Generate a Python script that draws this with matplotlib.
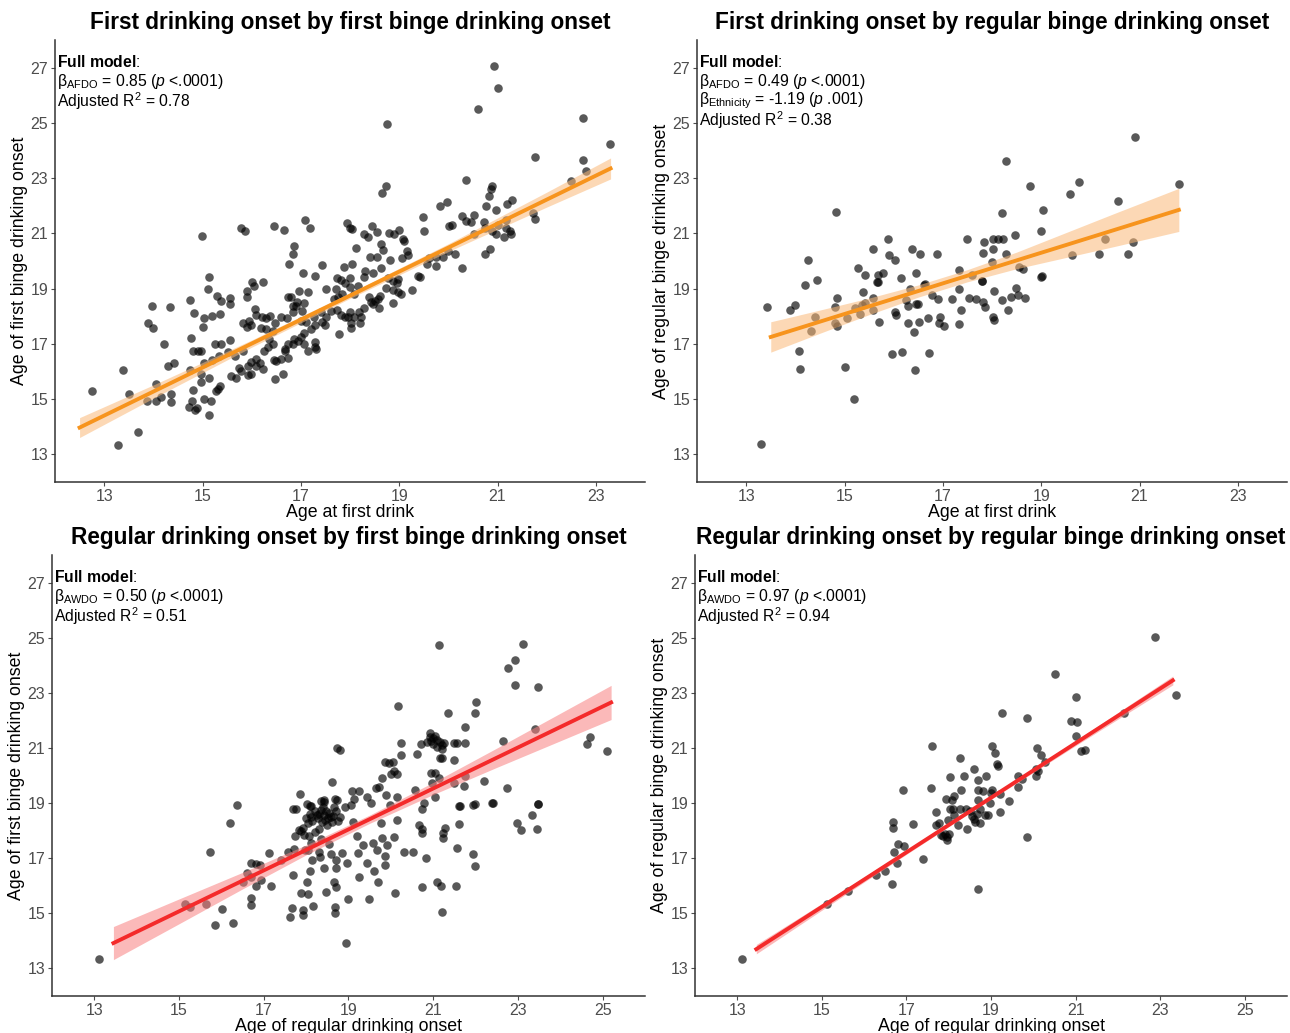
import numpy as np
import matplotlib
matplotlib.use("Agg")
import matplotlib.pyplot as plt

plt.rcParams['font.family'] = ['Liberation Sans', 'DejaVu Sans']
plt.rcParams['mathtext.fontset'] = 'custom'
plt.rcParams['mathtext.rm'] = 'Liberation Sans'
plt.rcParams['mathtext.it'] = 'Liberation Sans:italic'
plt.rcParams['mathtext.bf'] = 'Liberation Sans:bold'

# ---- panel 1: age at first drink vs age of first binge drinking onset
p1_pts = [
    (12.76, 15.3), (13.28, 13.33), (13.39, 16.05), (13.5, 15.18), (13.69, 13.8),
    (13.97, 18.38), (14.33, 18.32), (13.89, 17.77), (13.99, 17.57), (14.75, 18.59), (14.82, 18.11),
    (15.03, 17.92), (15.2, 18.02), (15.36, 18.08), (15.3, 18.74), (15.38, 18.56), (15.55, 18.65),
    (15.55, 18.45), (15.91, 18.68), (15.13, 19.41), (15.11, 18.99), (16.0, 19.25), (16.05, 19.1),
    (16.23, 19.25), (15.91, 18.93), (14.99, 20.9), (15.78, 21.2), (15.87, 21.07), (16.45, 21.25),
    (16.65, 21.13), (17.09, 21.47), (17.19, 21.2), (17.94, 21.37), (18.0, 21.2), (18.05, 21.15),
    (18.45, 21.27), (18.54, 21.05), (18.29, 20.96), (18.36, 20.87), (18.8, 21.0), (18.9, 20.98),
    (19.0, 21.13), (19.07, 20.8), (19.1, 20.72), (19.49, 21.59), (19.51, 21.07), (19.83, 21.98),
    (18.73, 22.7), (18.66, 22.47), (16.87, 20.53), (16.85, 20.24), (16.75, 19.9), (17.44, 19.86),
    (18.13, 20.47), (18.64, 20.6), (18.68, 20.4), (19.16, 20.38), (18.82, 20.04), (19.05, 20.1),
    (15.0, 17.6), (14.21, 17.01), (14.77, 17.2), (14.8, 16.75), (14.9, 16.74), (14.97, 16.74),
    (15.26, 16.99), (15.38, 16.99), (15.55, 17.13), (14.29, 16.2), (14.43, 16.3), (15.03, 16.32),
    (15.19, 16.4), (15.34, 16.56), (15.51, 16.7), (14.75, 16.04), (14.97, 15.92), (14.97, 15.63),
    (15.14, 15.75), (14.06, 15.56), (13.87, 14.93), (14.06, 14.95), (14.16, 15.08), (14.36, 15.19),
    (14.35, 14.9), (14.8, 15.33), (14.79, 14.95), (15.04, 15.01), (15.18, 14.95), (14.72, 14.72),
    (14.84, 14.59), (14.88, 14.68), (15.14, 14.41), (15.32, 15.35), (15.36, 15.47), (15.28, 15.29),
    (15.57, 15.84), (15.68, 15.78), (15.78, 16.02), (15.74, 16.14), (15.67, 16.56), (15.82, 16.74),
    (15.92, 16.2), (15.99, 16.36), (16.09, 16.2), (16.16, 16.32), (16.09, 16.44), (16.23, 16.08),
    (15.99, 15.92), (15.92, 15.87), (16.26, 16.74), (16.33, 16.9), (16.36, 17.17), (16.43, 16.99),
    (16.48, 15.74), (16.63, 15.92), (16.5, 16.38), (16.45, 16.42), (16.6, 16.44), (16.73, 16.5),
    (16.67, 16.81), (16.73, 16.99), (16.84, 17.01), (16.87, 17.19), (16.94, 17.11), (17.0, 17.25),
    (17.07, 16.99), (17.28, 17.08), (17.28, 16.89), (17.31, 16.81), (17.14, 16.75), (16.67, 16.75),
    (15.82, 17.77), (15.95, 17.83), (15.99, 17.69), (15.91, 17.62), (16.06, 18.26), (16.09, 18.05),
    (16.21, 17.98), (16.29, 17.93), (16.38, 18.02), (16.19, 17.59), (16.29, 17.53), (16.43, 17.47),
    (16.48, 17.74), (16.6, 17.99), (16.72, 17.93), (16.79, 18.71), (16.84, 18.14), (16.9, 18.38),
    (16.97, 18.9), (17.14, 18.87), (17.02, 18.2), (17.0, 17.84), (17.11, 17.78), (17.26, 17.96),
    (17.29, 17.69), (17.21, 17.53), (17.07, 17.38), (17.44, 17.78), (17.5, 17.68), (17.51, 17.96),
    (17.41, 18.14), (17.61, 18.2), (17.67, 18.62), (17.75, 18.68), (17.84, 18.8), (17.73, 19.39),
    (17.82, 19.32), (17.9, 19.2), (18.01, 19.39), (17.51, 18.99), (17.72, 18.99), (17.74, 18.22),
    (17.82, 18.05), (17.9, 17.96), (17.99, 18.17), (17.95, 17.96), (18.02, 17.77), (18.09, 17.96),
    (18.19, 18.14), (18.22, 17.96), (18.29, 18.3), (17.77, 17.35), (18.02, 17.59), (18.2, 17.74),
    (18.38, 18.68), (18.43, 18.5), (18.46, 18.44), (18.5, 18.56), (18.56, 18.62), (18.6, 18.74),
    (18.58, 18.29), (18.31, 19.65), (18.28, 19.43), (18.46, 19.56), (18.63, 19.75), (18.41, 20.16),
    (18.54, 20.16), (18.77, 19.39), (18.88, 19.29), (18.95, 19.19), (18.97, 19.35), (18.73, 19.02),
    (18.88, 18.95), (18.97, 18.89), (19.04, 18.8), (18.88, 18.47), (19.27, 18.95), (19.39, 19.44),
    (19.43, 19.41), (19.56, 19.9), (19.61, 20.12), (19.75, 20.16), (19.75, 19.83), (19.17, 20.2),
    (18.04, 19.9), (17.88, 19.77), (18.01, 19.05), (18.16, 19.11), (18.09, 18.8), (17.28, 19.44),
    (17.04, 19.56), (16.73, 18.71), (16.84, 18.38), (17.07, 18.47), (16.92, 18.5),
    (20.92, 27.05), (21.0, 26.26), (20.61, 25.5), (18.75, 24.96), (22.74, 25.18), (23.28, 24.25),
    (21.77, 23.76), (22.74, 23.64), (22.81, 23.27), (22.5, 22.9), (20.36, 22.95), (20.88, 22.71),
    (20.86, 22.6), (20.82, 22.36), (19.97, 22.14), (20.76, 21.98), (21.73, 21.72), (21.77, 21.51),
    (21.3, 22.2), (21.2, 22.05), (20.97, 21.84), (20.53, 21.68), (20.28, 21.63), (20.36, 21.46),
    (20.46, 21.4), (20.02, 21.25), (20.08, 21.3), (20.72, 21.41), (20.75, 21.2), (20.53, 20.98),
    (20.88, 21.1), (20.97, 20.98), (21.0, 21.3), (21.18, 21.5), (21.17, 21.2), (21.25, 21.1),
    (21.27, 20.98), (21.14, 20.86), (20.75, 20.26), (20.84, 20.44), (20.14, 20.26), (19.9, 20.16),
    (20.0, 20.35), (20.27, 19.75),
]
p1_fit_x = [12.5, 23.3]
p1_fit_y = [13.97, 23.35]
p1_band_x = [12.5, 14.0, 16.0, 18.0, 20.0, 22.0, 23.3]
p1_band_half = [0.36, 0.24, 0.13, 0.1, 0.14, 0.27, 0.38]

# ---- panel 2: age at first drink vs age of regular binge drinking onset
p2_pts = [
    (20.91, 24.48), (18.28, 23.63), (18.77, 22.72), (19.76, 22.85), (19.58, 22.42), (20.56, 22.19),
    (21.8, 22.78), (14.83, 21.76), (18.21, 21.72), (19.04, 21.85), (18.46, 20.94), (19.0, 21.08),
    (17.49, 20.8), (17.84, 20.7), (18.03, 20.78), (18.13, 20.78), (18.23, 20.78), (15.89, 20.78),
    (15.57, 20.42), (15.9, 20.2), (16.03, 20.03), (16.37, 20.42), (16.53, 20.27), (16.88, 20.25),
    (17.81, 20.3), (18.03, 20.42), (18.29, 20.25), (17.99, 19.97), (19.62, 20.21), (20.18, 20.27),
    (20.77, 20.27), (20.29, 20.78), (20.87, 20.7), (17.32, 19.67), (17.59, 19.48), (17.8, 19.28),
    (18.54, 19.79), (18.64, 19.7), (19.0, 19.42), (19.02, 19.46), (14.25, 20.03), (14.45, 19.33),
    (14.19, 19.12), (15.28, 19.75), (15.41, 19.51), (15.68, 19.51), (15.78, 19.57), (15.67, 19.24),
    (16.15, 19.39), (16.45, 19.55), (16.62, 19.12),
    (13.3, 13.36), (13.42, 18.33), (13.9, 18.21), (14.0, 18.42), (14.08, 16.75), (14.09, 16.08),
    (14.31, 17.48), (14.41, 17.97), (14.81, 18.33), (14.85, 18.66), (14.81, 17.75), (14.85, 17.63),
    (15.02, 16.18), (15.19, 15.0), (15.06, 17.93), (15.22, 18.31), (15.31, 18.09), (15.35, 18.42),
    (15.41, 18.48), (15.37, 18.87), (15.57, 18.66), (15.57, 18.24), (15.68, 19.23), (15.7, 17.79),
    (15.97, 16.64), (16.03, 18.15), (16.05, 18.03), (16.16, 16.72), (16.25, 18.58), (16.29, 18.38),
    (16.33, 18.99), (16.29, 17.75), (16.41, 17.44), (16.43, 16.05), (16.45, 18.45), (16.49, 18.45),
    (16.51, 17.78), (16.63, 19.15), (16.69, 17.93), (16.71, 16.66), (16.77, 18.76), (16.91, 18.62),
    (16.94, 17.99), (16.93, 17.75), (17.03, 17.63), (17.18, 18.62), (17.32, 18.99), (17.32, 17.73),
    (17.37, 18.24), (17.53, 18.66), (17.67, 18.62), (17.8, 19.27), (17.81, 18.52), (17.86, 18.33),
    (18.05, 18.9), (18.03, 17.99), (18.05, 17.87), (18.21, 18.58), (18.32, 18.21), (18.38, 18.7),
    (18.49, 19.02), (18.52, 18.78), (18.67, 18.66),
]
p2_fit_x = [13.5, 21.8]
p2_fit_y = [17.25, 21.85]
p2_band_x = [13.5, 14.5, 15.5, 16.5, 17.5, 18.5, 19.5, 20.5, 21.8]
p2_band_half = [0.55, 0.42, 0.3, 0.22, 0.22, 0.3, 0.45, 0.6, 0.78]

# ---- panel 3: age of regular drinking onset vs age of first binge drinking onset
p3_pts = [
    (13.12, 13.35), (15.15, 15.33), (15.25, 15.24), (15.64, 15.33), (15.86, 14.58), (16.02, 15.16),
    (15.72, 17.22), (16.21, 18.27), (16.37, 18.94), (16.28, 14.66), (16.5, 16.15), (16.61, 16.45),
    (16.7, 16.31), (16.7, 16.82), (16.81, 16.79), (16.7, 15.55), (16.7, 15.3), (16.81, 15.99),
    (16.93, 16.21), (16.91, 16.76), (17.13, 17.18), (17.18, 15.99), (17.4, 16.94), (17.57, 17.24),
    (17.62, 14.88), (17.69, 18.78), (17.72, 17.33), (17.68, 16.39), (17.67, 15.18), (17.74, 17.81),
    (17.82, 18.03), (17.87, 17.97), (17.92, 18.09), (17.97, 17.3), (17.87, 15.75), (17.92, 15.12),
    (17.92, 14.94), (18.02, 18.98), (18.04, 18.27), (18.07, 17.79), (18.12, 17.55), (18.14, 16.94),
    (18.1, 16.52), (18.02, 16.15), (18.04, 15.69), (18.17, 15.27), (18.27, 18.45), (18.42, 18.58),
    (18.51, 18.45), (18.63, 18.52), (18.3, 18.05), (18.3, 17.24), (18.32, 17.06), (18.42, 16.64),
    (18.47, 15.79), (18.54, 17.51), (18.59, 17.15), (18.71, 16.94), (18.71, 16.64), (18.66, 16.15),
    (18.71, 15.97), (18.69, 15.24), (18.69, 15.0), (18.94, 13.91), (18.84, 17.18), (18.96, 16.82),
    (18.98, 15.51), (19.06, 18.94), (19.11, 18.33), (19.21, 17.81), (19.23, 17.18), (19.24, 16.33),
    (19.34, 17.48), (19.43, 16.82), (19.49, 15.51), (19.53, 19.0), (19.58, 17.55), (19.6, 16.52),
    (19.68, 17.28), (19.7, 16.15), (19.76, 18.27), (19.8, 17.73), (19.9, 17.48), (19.85, 17.08),
    (19.85, 16.76), (19.97, 18.94), (20.08, 17.76), (20.15, 18.39), (20.1, 15.73), (20.3, 17.24),
    (20.52, 17.24), (20.67, 18.21), (20.73, 18.05), (20.74, 17.91), (20.74, 18.78), (20.84, 17.0),
    (20.74, 15.97), (21.09, 16.15), (21.19, 15.99), (21.22, 17.91), (21.24, 17.75), (21.29, 18.09),
    (21.21, 15.06), (21.53, 15.99), (21.56, 17.36), (21.6, 18.25), (21.6, 18.9), (21.94, 18.94),
    (21.94, 17.15), (21.98, 16.72), (22.38, 19.02), (22.97, 18.27), (23.07, 18.01), (23.34, 18.55),
    (23.45, 18.05), (23.47, 18.98),
    (18.1, 18.6), (18.2, 18.7), (18.35, 18.75), (18.45, 18.4), (18.55, 18.65), (18.6, 18.3),
    (18.7, 18.7), (18.8, 18.5), (18.15, 18.35), (18.25, 18.55), (18.4, 18.85), (18.65, 18.85),
    (18.0, 18.45), (17.95, 17.85), (18.2, 17.95), (18.5, 18.2), (18.05, 17.3), (18.35, 17.7),
    (18.3, 18.62), (18.48, 18.7), (18.58, 18.5), (18.12, 18.5), (18.75, 18.35), (18.38, 18.3),
    (21.13, 24.75), (23.11, 24.78), (22.93, 24.2), (22.77, 23.9), (22.92, 23.28), (23.48, 23.22),
    (20.16, 22.52), (22.01, 22.68), (21.36, 22.27), (21.98, 22.28), (21.76, 21.77), (23.41, 21.68),
    (24.71, 21.41), (24.62, 21.13), (25.1, 20.9), (20.92, 21.53), (20.92, 21.4), (21.0, 21.35),
    (21.05, 21.45), (21.1, 21.3), (20.95, 21.25), (21.15, 21.2), (21.0, 21.15), (21.2, 21.1),
    (20.85, 21.2), (21.08, 21.05), (20.25, 21.19), (20.71, 21.13), (21.26, 21.17), (21.5, 21.19),
    (21.56, 21.17), (21.76, 21.18), (22.65, 21.24), (20.61, 20.78), (20.25, 20.75), (21.2, 20.95),
    (21.21, 20.63), (21.15, 20.63), (21.5, 20.56), (19.86, 20.5), (19.95, 20.45), (20.05, 20.5),
    (19.78, 19.9), (20.07, 20.18), (20.15, 20.05), (20.0, 20.05), (18.62, 19.77), (18.73, 21.01),
    (18.8, 20.93), (19.08, 19.44), (19.25, 19.44), (19.14, 19.14), (19.44, 19.23), (19.66, 19.53),
    (19.72, 19.58), (19.89, 19.29), (20.14, 19.23), (20.57, 19.47), (20.94, 20.1), (21.04, 20.08),
    (21.13, 19.9), (20.98, 19.74), (21.48, 19.72), (21.73, 19.62), (21.76, 20.0), (22.2, 19.8),
    (22.75, 19.53), (21.05, 19.21), (20.79, 19.01), (21.64, 18.89), (21.98, 18.95), (22.41, 19.02),
    (23.48, 18.96), (18.36, 19.08), (18.43, 19.05), (18.72, 19.11), (18.11, 18.89), (17.85, 19.32),
    (17.75, 18.77), (18.08, 18.9), (18.42, 19.1), (18.68, 19.13), (18.92, 18.84),
]
p3_fit_x = [13.45, 25.2]
p3_fit_y = [13.92, 22.65]
p3_band_x = [13.45, 15.0, 16.5, 18.0, 19.5, 21.0, 22.5, 24.0, 25.2]
p3_band_half = [0.6, 0.45, 0.3, 0.18, 0.15, 0.22, 0.35, 0.5, 0.62]

# ---- panel 4: age of regular drinking onset vs age of regular binge drinking onset
p4_pts = [
    (22.88, 25.01), (20.52, 23.7), (23.38, 22.92), (22.15, 22.27), (21.0, 22.83), (20.9, 21.96),
    (21.03, 21.95), (21.0, 21.44), (19.26, 22.27), (19.86, 22.07), (17.61, 21.07), (19.02, 21.08),
    (19.1, 20.83), (19.14, 20.41), (19.16, 20.33), (18.26, 20.65), (20.09, 20.98), (20.19, 20.76),
    (20.28, 20.49), (20.07, 20.25), (20.1, 20.17), (20.07, 20.0), (19.63, 20.0), (19.74, 19.88),
    (19.65, 19.58), (21.12, 20.88), (21.22, 20.92), (18.6, 20.24), (18.36, 20.0), (18.04, 19.95),
    (18.88, 19.97), (18.69, 19.82), (18.28, 19.46), (18.69, 19.46), (18.82, 19.42), (19.0, 19.38),
    (19.02, 19.46), (19.22, 19.34), (19.43, 19.06), (17.59, 19.55), (16.91, 19.48), (17.93, 19.16),
    (18.13, 19.24),
    (13.1, 13.35), (15.11, 15.33), (15.62, 15.82), (16.27, 16.39), (16.5, 16.54), (16.67, 16.05),
    (16.68, 18.31), (16.68, 18.09), (16.71, 17.22), (16.77, 16.84), (16.79, 17.51), (16.94, 17.45),
    (17.15, 18.25), (17.4, 16.96), (17.7, 18.67), (17.69, 18.21), (17.76, 18.27), (17.82, 17.85),
    (17.87, 17.79), (17.92, 17.88), (17.97, 17.77), (18.01, 17.88), (17.97, 17.67), (17.99, 18.39),
    (18.04, 18.78), (18.08, 19.12), (18.13, 18.58), (18.11, 18.78), (18.21, 18.21), (18.26, 18.78),
    (18.43, 18.05), (18.41, 18.78), (18.5, 18.7), (18.55, 18.54), (18.6, 18.42), (18.63, 18.33),
    (18.67, 18.61), (18.75, 18.78), (18.7, 19.12), (18.85, 18.58), (18.97, 19.0), (19.22, 18.66),
    (19.84, 17.76), (18.7, 15.88), (18.73, 18.27), (18.94, 18.58),
]
p4_fit_x = [13.45, 23.3]
p4_fit_y = [13.7, 23.45]
p4_band_x = [13.45, 16.0, 18.5, 21.0, 23.3]
p4_band_half = [0.17, 0.09, 0.05, 0.09, 0.16]

titles = [
    "First drinking onset by first binge drinking onset",
    "First drinking onset by regular binge drinking onset",
    "Regular drinking onset by first binge drinking onset",
    "Regular drinking onset by regular binge drinking onset",
]
xlabels = ["Age at first drink", "Age at first drink",
           "Age of regular drinking onset", "Age of regular drinking onset"]
ylabels = ["Age of first binge drinking onset", "Age of regular binge drinking onset",
           "Age of first binge drinking onset", "Age of regular binge drinking onset"]
notes = [
    [r"β$_{\rm AFDO}$ = 0.85 ($p$ <.0001)", r"Adjusted R$^2$ = 0.78"],
    [r"β$_{\rm AFDO}$ = 0.49 ($p$ <.0001)", r"β$_{\rm Ethnicity}$ = -1.19 ($p$ .001)",
     r"Adjusted R$^2$ = 0.38"],
    [r"β$_{\rm AWDO}$ = 0.50 ($p$ <.0001)", r"Adjusted R$^2$ = 0.51"],
    [r"β$_{\rm AWDO}$ = 0.97 ($p$ <.0001)", r"Adjusted R$^2$ = 0.94"],
]

ORANGE = "#F7941D"
ORANGE_FILL = "#FBB978"
RED = "#F42A2A"
RED_FILL = "#F98080"

fig = plt.figure(figsize=(12.9, 10.33), dpi=100)
W, H = 1290, 1033
boxes = [(55, 40, 645, 482), (697, 40, 1287, 482),
         (52, 555, 645, 996), (695, 555, 1287, 996)]
panels = [
    (p1_pts, p1_fit_x, p1_fit_y, p1_band_x, p1_band_half, ORANGE, ORANGE_FILL, 24),
    (p2_pts, p2_fit_x, p2_fit_y, p2_band_x, p2_band_half, ORANGE, ORANGE_FILL, 24),
    (p3_pts, p3_fit_x, p3_fit_y, p3_band_x, p3_band_half, RED, RED_FILL, 26),
    (p4_pts, p4_fit_x, p4_fit_y, p4_band_x, p4_band_half, RED, RED_FILL, 26),
]

for i, (pts, fx, fy, bx, bh, col, fill, xmax) in enumerate(panels):
    l, t, r, b = boxes[i]
    ax = fig.add_axes([l / W, 1 - b / H, (r - l) / W, (b - t) / H])
    pts = np.array(pts)
    ax.scatter(pts[:, 0], pts[:, 1], s=38, color="black", alpha=0.65, linewidths=0, zorder=2)

    bx = np.array(bx)
    by = np.interp(bx, fx, fy)
    ax.fill_between(bx, by - np.array(bh), by + np.array(bh), color=fill, alpha=0.55,
                    linewidth=0, zorder=3)
    ax.plot(fx, fy, color=col, linewidth=2.8, zorder=4)

    ax.set_xlim(12, xmax)
    ax.set_ylim(12, 28)
    ax.set_xticks(np.arange(13, xmax, 2))
    ax.set_yticks(np.arange(13, 28, 2))
    for s in ["top", "right"]:
        ax.spines[s].set_visible(False)
    for s in ["left", "bottom"]:
        ax.spines[s].set_color("#333333")
        ax.spines[s].set_linewidth(1.1)
    ax.tick_params(labelsize=11.5, colors="#4D4D4D", length=3, width=0.8, pad=2)

    ax.set_title(titles[i], fontsize=16.3, fontweight="bold", pad=8)
    ax.set_xlabel(xlabels[i], fontsize=12.8, labelpad=0)
    ax.set_ylabel(ylabels[i], fontsize=12.8, labelpad=2)

    ax.text(0.004, 0.95, r"$\bf{Full\ model}$:", transform=ax.transAxes,
            fontsize=11.3, va="center", ha="left")
    for k, line in enumerate(notes[i]):
        ax.text(0.004, 0.95 - 0.044 * (k + 1), line, transform=ax.transAxes,
                fontsize=11.3, va="center", ha="left")

fig.savefig("out.png", dpi=100)
